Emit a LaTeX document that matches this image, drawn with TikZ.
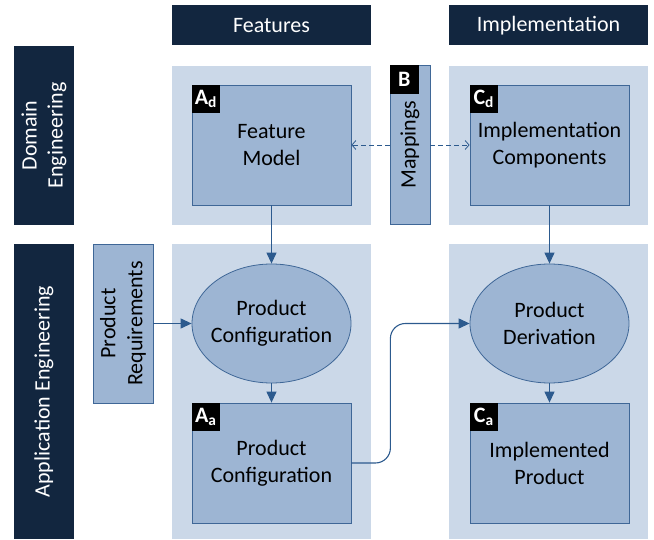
\documentclass[tikz,border=0pt]{standalone}
\usepackage{fontspec}
\setmainfont{Carlito}
\usepackage{xcolor}
\usepackage{tikz}
\usetikzlibrary{positioning,arrows.meta,shapes.geometric,calc}
\definecolor{splnavy}{HTML}{12263F}
\definecolor{splregion}{HTML}{CBD8E8}
\definecolor{splfill}{HTML}{9DB5D3}
\definecolor{splline}{HTML}{3F6797}
\definecolor{splarrow}{HTML}{2C5A8E}

\tikzset{
  hdr/.style={fill=splnavy,text=white,inner sep=0pt,font=\fontsize{22}{26}\selectfont,align=center},
  region/.style={fill=splregion,inner sep=0pt},
  artefact/.style={draw=splline,fill=splfill,line width=0.8pt,inner sep=0pt,minimum width=159pt,minimum height=120pt,align=center,font=\fontsize{22}{27}\selectfont},
  process/.style={ellipse,draw=splline,fill=splfill,line width=0.8pt,inner xsep=-10pt,inner ysep=0pt,minimum width=159pt,minimum height=119pt,align=center,font=\fontsize{22}{27}\selectfont},
  badge/.style={fill=black,text=white,inner sep=0pt,minimum width=28pt,minimum height=28pt,font=\fontsize{22}{24}\selectfont\bfseries},
  arr/.style={draw=splarrow,line width=1.1pt,-{Triangle[length=11pt,width=10pt]}},
  dasharr/.style={draw=splarrow,line width=0.8pt,dash pattern=on 5pt off 3pt,-{Straight Barb[length=4pt,width=9pt]}}
}

\begin{document}
\begin{tikzpicture}[x=1pt,y=-1pt]
  \useasboundingbox (0,0) rectangle (654,540);
  % column and row headers
  \node[hdr,minimum width=199pt,minimum height=40pt] (hdrfeat) at (271.5,25.5) {Features};
  \node[hdr,minimum width=199pt,minimum height=40pt] (hdrimpl) at (548.5,25.5) {Implementation};
  \node[hdr,rotate=90,minimum width=179pt,minimum height=60pt] (lbldom) at (44,135.5) {Domain\\Engineering};
  \node[hdr,rotate=90,minimum width=295pt,minimum height=60pt] (lblapp) at (44,391.5) {Application Engineering};
  % background regions
  \foreach \nm/\cx/\cy/\ht in {regfd/271.5/145.5/159, regid/548.5/145.5/159, regfa/271.5/391.5/295, regia/548.5/391.5/295}
    \node[region,minimum width=199pt,minimum height=\ht pt] (\nm) at (\cx,\cy) {};
  % artefacts and processes
  \node[artefact] (fm) at (271.5,145) {Feature\\Model};
  \node[artefact] (ic) at (549.5,145) {Implementation\\Components};
  \node[artefact] (pca) at (271.5,463) {Product\\Configuration};
  \node[artefact] (ip) at (549.5,463) {Implemented\\Product};
  \node[process] (pc) at (271.5,323.5) {Product\\Configuration};
  \node[process] (pd) at (549.5,323.5) {Product\\Derivation};
  \node[artefact,rotate=90,minimum width=159pt,minimum height=40pt] (map) at (410,144.5) {Mappings};
  \node[artefact,rotate=90,minimum width=159pt,minimum height=60pt] (req) at (123,323.5) {Product\\Requirements};
  % badges
  \node[badge,anchor=north west] (bfm) at (fm.north west) {A\textsubscript{d}};
  \node[badge,anchor=north west] (bic) at (ic.north west) {C\textsubscript{d}};
  \node[badge,anchor=north west] (bpca) at (pca.north west) {A\textsubscript{a}};
  \node[badge,anchor=north west] (bip) at (ip.north west) {C\textsubscript{a}};
  \node[badge,anchor=north west,minimum width=29pt,minimum height=29pt] (bmap) at (map.north east) {B};
  % connectors
  \draw[arr] (fm) -- (pc);
  \draw[arr] (ic) -- (pd);
  \draw[arr] (req) -- (pc);
  \draw[arr] (pc) -- (pca);
  \draw[arr] (pd) -- (ip);
  \draw[arr,rounded corners=15pt] (pca.east) -- ++(39,0) |- (pd.west);
  \draw[dasharr] (map.north |- fm.east) -- (fm.east);
  \draw[dasharr] (map.south |- ic.west) -- (ic.west);
\end{tikzpicture}
\end{document}
